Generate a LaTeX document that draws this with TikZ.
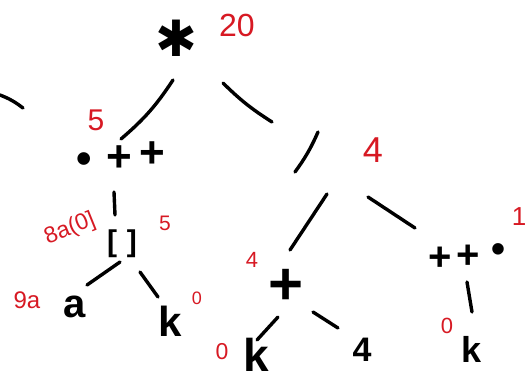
\documentclass[tikz,border=0pt]{standalone}
\usepackage{fontspec}
\setmainfont{Liberation Sans}
\newfontfamily\symfont{DejaVu Sans}
\definecolor{inkred}{RGB}{215,25,35}
\newcommand\fsz[1]{\fontsize{#1}{#1}\selectfont}
\begin{document}
\begin{tikzpicture}[x=1pt,y=-1pt,
  stroke/.style={line width=3.4pt,line cap=round,black},
  glyph/.style={inner sep=0pt,text=black},
  cost/.style={inner sep=0pt,text=inkred},
]
\useasboundingbox[fill=white] (0,0) rectangle (527,383);

% nodes (black)
\node[glyph,font=\symfont\fsz{50}] (root) at (176,38) {✱};
\node[glyph,font=\fsz{44}\bfseries] (lpp) at (121,158) {\raisebox{-2pt}{\textbullet}\hspace{14pt}+\hspace{8pt}\raisebox{4pt}{+}};
\node[glyph,font=\fsz{30}\bfseries] (br) at (122,244) {[\hspace{10pt}]};
\node[glyph,font=\fsz{40}\bfseries] (a) at (75,307) {a};
\node[glyph,font=\fsz{42}\bfseries] (k1) at (170,321) {k};
\node[glyph,font=\fsz{60}\bfseries] (mplus) at (286,287) {+};
\node[glyph,font=\fsz{40}\bfseries] (rpp) at (467,257) {+\hspace{4pt}\raisebox{2pt}{+}\hspace{12pt}\raisebox{8pt}{\textbullet}};
\node[glyph,font=\fsz{46}\bfseries] (k2) at (256,355) {k};
\node[glyph,font=\fsz{34}\bfseries] (four) at (362,350) {4};
\node[glyph,font=\fsz{36}\bfseries] (k3) at (472,349) {k};

% cost labels (red)
\node[cost,font=\fsz{32}] (c20) at (237,25) {20};
\node[cost,font=\fsz{30}] (c5a) at (96,120) {5};
\node[cost,font=\fsz{36}] (c4a) at (373,150) {4};
\node[cost,font=\fsz{23},rotate=22] (c8a) at (70,229) {8a(0]};
\node[cost,font=\fsz{21}] (c5b) at (165,223) {5};
\node[cost,font=\fsz{24}] (c9a) at (27,300) {9a};
\node[cost,font=\fsz{18}] (c0a) at (197,298) {0};
\node[cost,font=\fsz{22}] (c4b) at (252,260) {4};
\node[cost,font=\fsz{23}] (c0b) at (222,352) {0};
\node[cost,font=\fsz{22}] (c0c) at (447,326) {0};
\node[cost,font=\fsz{26}] (c1) at (519,217) {1};

% stroke end points
\coordinate (s0a) at (0,95);    \coordinate (s0b) at (23,108);
\coordinate (s1a) at (173,80);  \coordinate (s1b) at (121,139);
\coordinate (s2a) at (223,83);  \coordinate (s2b) at (272,122);
\coordinate (s3a) at (318,132); \coordinate (s3b) at (295,172);
\coordinate (s4a) at (327,194); \coordinate (s4b) at (290,250);
\coordinate (s5a) at (368,197); \coordinate (s5b) at (415,228);
\coordinate (s6a) at (114,192); \coordinate (s6b) at (115,215);
\coordinate (s7a) at (120,262); \coordinate (s7b) at (87,285);
\coordinate (s8a) at (140,272); \coordinate (s8b) at (158,297);
\coordinate (s9a) at (278,317); \coordinate (s9b) at (257,340);
\coordinate (s10a) at (313,312); \coordinate (s10b) at (338,328);
\coordinate (s11a) at (467,282); \coordinate (s11b) at (472,312);

\draw[stroke] (s0a) to[bend left=8] (s0b);
\draw[stroke] (s1a) to[bend left=8] (s1b);
\draw[stroke] (s2a) to[bend right=6] (s2b);
\draw[stroke] (s3a) to[bend left=6] (s3b);
\draw[stroke] (s4a) -- (s4b);
\draw[stroke] (s5a) -- (s5b);
\draw[stroke] (s6a) -- (s6b);
\draw[stroke] (s7a) -- (s7b);
\draw[stroke] (s8a) -- (s8b);
\draw[stroke] (s9a) -- (s9b);
\draw[stroke] (s10a) -- (s10b);
\draw[stroke] (s11a) -- (s11b);
\end{tikzpicture}
\end{document}
